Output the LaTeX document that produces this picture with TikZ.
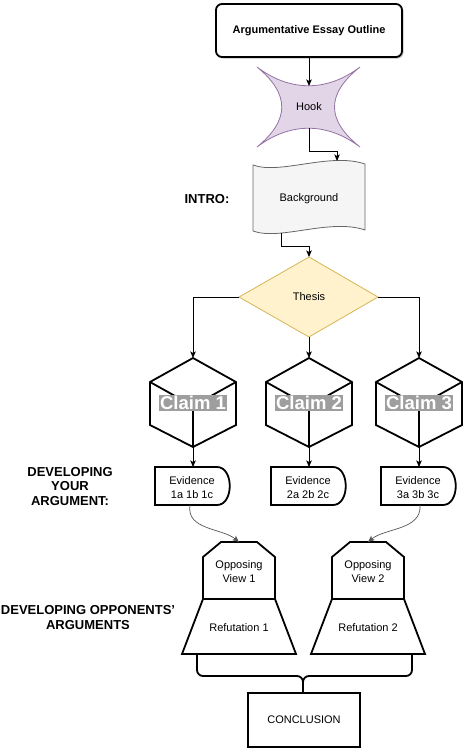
\documentclass[tikz,border=0pt]{standalone}
\usepackage{fontspec}
\setmainfont{Liberation Sans}
\usetikzlibrary{arrows.meta,shadows}
\definecolor{hookfill}{HTML}{E1D5E7}
\definecolor{hookdraw}{HTML}{9673A6}
\definecolor{thfill}{HTML}{FFF2CC}
\definecolor{thdraw}{HTML}{D6B656}
\definecolor{bgfill}{HTML}{F5F5F5}
\definecolor{bgdraw}{HTML}{666666}
\definecolor{claimgray}{HTML}{9E9E9E}
\definecolor{curvegray}{HTML}{555555}
\newcommand\claimcube[3]{%
  \begin{scope}[shift={(#1,0)}]
    \draw[heavy] (0,358) -- (43,382) -- (43,425) -- (0,447) -- (-43,425) -- (-43,382) -- cycle;
    \draw[heavy] (-43,382) -- (0,406) -- (43,382);
    \draw[heavy] (0,406) -- (0,447);
    \coordinate (#2top) at (0,358);
    \coordinate (#2bot) at (0,447);
    \node[claimlab] (#2lab) at (0,403) {#3};
  \end{scope}}
\newcommand\evidbox[3]{%
  \begin{scope}[shift={(#1,0)}]
    \draw[heavy] (-38,467) -- (24,467) .. controls (41,467) and (41,505) .. (24,505) -- (-38,505) -- cycle;
    \coordinate (#2top) at (0,467);
    \coordinate (#2bot) at (0,505);
    \node[smalltxt, align=center] (#2) at (-1,488) {Evidence\\#3};
  \end{scope}}
\newcommand\oppbox[4]{%
  \begin{scope}[shift={(#1,0)}]
    \draw[heavy] (-18,542) -- (18,542) -- (36,557) -- (36,599) -- (-36,599) -- (-36,557) -- cycle;
    \draw[heavy] (-36,599) -- (36,599) -- (57,654) -- (-57,654) -- cycle;
    \coordinate (#2top) at (0,542);
    \node[smalltxt, align=center] (#2) at (0,572) {Opposing\\View #3};
    \node[smalltxt] (#2ref) at (0,628) {#4};
  \end{scope}}
\begin{document}
\begin{tikzpicture}[x=1pt,y=-1pt,
  edge/.style={line width=0.9pt, -{Stealth[length=6.5pt,width=5.5pt,inset=1.5pt]}},
  curvedge/.style={draw=curvegray, line width=0.7pt, -{Stealth[length=6.5pt,width=5.5pt,inset=1.5pt]}},
  heavy/.style={draw=black, line width=1.8pt, line join=miter},
  smalltxt/.style={font=\fontsize{11}{14}\selectfont, inner sep=1pt},
  sidelab/.style={font=\bfseries\fontsize{13}{14.8}\selectfont, align=center},
  claimlab/.style={fill=claimgray, text=white, font=\bfseries\fontsize{18.5}{20}\selectfont, inner sep=1.5pt}]
\useasboundingbox (0,0) rectangle (465,750);

% title
\node[draw, line width=1.8pt, rounded corners=6pt, minimum width=186pt, minimum height=53pt,
  fill=white, font=\bfseries\fontsize{11}{13}\selectfont,
  drop shadow={shadow xshift=1.5pt, shadow yshift=-1.5pt, opacity=0.25, fill=black}] (title) at (309,30.5) {Argumentative Essay Outline};

% hook
\draw[fill=hookfill, draw=hookdraw, line width=0.8pt]
  (257,67) .. controls (290,92) and (327,92) .. (360,67)
  .. controls (326,94) and (326,120) .. (360,147)
  .. controls (327,122) and (290,122) .. (257,147)
  .. controls (290,120) and (290,94) .. (257,67) -- cycle;
\node[smalltxt] (hook) at (309,107) {Hook};
\coordinate (hooktop) at (309,86);
\coordinate (hookbot) at (309,128);
\draw[edge] (title.south) -- (hooktop);

% background
\draw[fill=bgfill, draw=bgdraw, line width=0.8pt]
  (253,165) .. controls (280,175) and (330,152) .. (365,164)
  -- (365,230) .. controls (330,218) and (280,241) .. (253,231) -- cycle;
\node[smalltxt] (bg) at (309,199) {Background};
\coordinate (bgtop) at (337,161);
\coordinate (bgbot) at (281,233);
\draw[edge] (hookbot) -- ++(0,23) -| (bgtop);
\node[sidelab] (intro) at (207,199) {INTRO:};

% thesis
\draw[fill=thfill, draw=thdraw, line width=0.8pt] (309,257) -- (378,297) -- (309,337) -- (239,297) -- cycle;
\node[smalltxt] (thesis) at (309,297) {Thesis};
\coordinate (thtop) at (309,257);
\coordinate (thL) at (239,297);
\coordinate (thR) at (378,297);
\coordinate (thB) at (309,337);
\draw[edge] (bgbot) -- (281,246) -| (thtop);

% claims
\claimcube{193}{cA}{Claim 1}
\claimcube{309}{cB}{Claim 2}
\claimcube{419}{cC}{Claim 3}
\draw[edge] (thL) -| (cAtop);
\draw[edge] (thB) -- (cBtop);
\draw[edge] (thR) -| (cCtop);

% evidence
\evidbox{193}{evA}{1a 1b 1c}
\evidbox{309}{evB}{2a 2b 2c}
\evidbox{419}{evC}{3a 3b 3c}
\draw[edge] (cAbot) -- (evAtop);
\draw[edge] (cBbot) -- (evBtop);
\draw[edge] (cCbot) -- (evCtop);
\node[sidelab] (devyour) at (70,486.5) {DEVELOPING\\YOUR\\ARGUMENT:};

% opposing views and refutations
\oppbox{239}{opA}{1}{Refutation 1}
\oppbox{368}{opB}{2}{Refutation 2}
\draw[curvedge] ([xshift=-3pt]evAbot) .. controls (186,530) and (222,528) .. (opAtop);
\draw[curvedge] ([xshift=1pt]evCbot) .. controls (422,530) and (385,528) .. (opBtop);
\node[sidelab] (devopp) at (88,617.5) {DEVELOPING OPPONENTS'\\ARGUMENTS};

% brace
\coordinate (brL) at (197,654);
\coordinate (brR) at (412,654);
\coordinate (brM) at (303,692);
\draw[heavy, rounded corners=6pt, line join=round] (brL) -- (197,676) -- (303,676) -- (brM);
\draw[heavy, rounded corners=6pt, line join=round] (brR) -- (412,676) -- (303,676) -- (brM);

% conclusion
\node[draw, line width=1.8pt, minimum width=112pt, minimum height=54pt, smalltxt, inner sep=1pt] (concl) at (304,720) {CONCLUSION};
\end{tikzpicture}
\end{document}
